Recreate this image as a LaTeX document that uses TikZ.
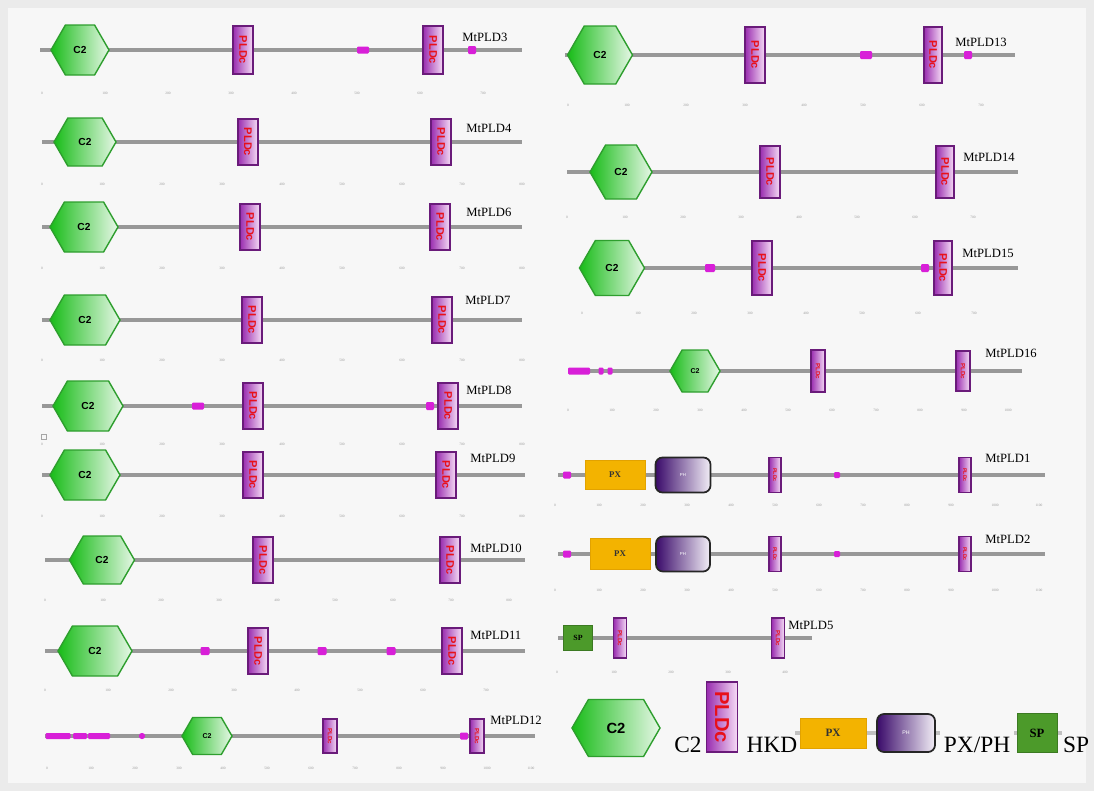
\documentclass[tikz,border=0pt]{standalone}
\usepackage{fontspec}
\usepackage{graphicx}
\setmainfont{Liberation Serif}
\newfontfamily\dsans{Liberation Sans}
\usetikzlibrary{shapes.symbols}

\definecolor{bgouter}{HTML}{EBEBEB}
\definecolor{bginner}{HTML}{F7F7F7}
\definecolor{bbgray}{HTML}{989898}
\definecolor{c2dark}{HTML}{18BC18}
\definecolor{c2light}{HTML}{E6F7E6}
\definecolor{c2edge}{HTML}{2E9E2E}
\definecolor{pldcdark}{HTML}{9A2DB0}
\definecolor{pldclight}{HTML}{F6DDF6}
\definecolor{pldcedge}{HTML}{6A1B7A}
\definecolor{pldcred}{HTML}{E8101A}
\definecolor{pxorange}{HTML}{F3B300}
\definecolor{pxedge}{HTML}{E2A200}
\definecolor{phdark}{HTML}{3A0A6A}
\definecolor{phlight}{HTML}{F2EEF6}
\definecolor{spgreen}{HTML}{4C9A2A}
\definecolor{spedge}{HTML}{3C7A22}
\definecolor{motifpink}{HTML}{D81FD8}

\newcommand{\pldtxt}{\rotatebox{-90}{PLDc}}

\tikzset{
  backbone/.style={draw=bbgray, line width=1.8pt},
  c2dom/.style 2 args={signal, signal to=west and east, signal pointer angle=120,
    draw=c2edge, line width=0.8pt, left color=c2dark, right color=c2light,
    inner sep=0pt, minimum width=#1*0.02cm, minimum height=#2*0.02cm,
    font=\dsans\bfseries\fontsize{5.8}{5.8}\selectfont},
  pldc/.style 2 args={rectangle, draw=pldcedge, line width=0.9pt,
    left color=pldcdark, right color=pldclight, text=pldcred, inner sep=0pt,
    minimum width=#1*0.02cm, minimum height=#2*0.02cm,
    font=\dsans\bfseries\fontsize{6.3}{6.3}\selectfont},
  pxdom/.style 2 args={rectangle, fill=pxorange, draw=pxedge, line width=0.5pt,
    inner sep=0pt, minimum width=#1*0.02cm, minimum height=#2*0.02cm,
    text=black!80, font=\bfseries\fontsize{5}{5}\selectfont},
  phdom/.style 2 args={rectangle, rounded corners=4pt, draw=black!85, line width=1pt,
    left color=phdark, right color=phlight, inner sep=0pt,
    minimum width=#1*0.02cm, minimum height=#2*0.02cm,
    text=white, font=\dsans\fontsize{2.5}{2.5}\selectfont},
  spdom/.style 2 args={rectangle, fill=spgreen, draw=spedge, line width=0.5pt,
    inner sep=0pt, minimum width=#1*0.02cm, minimum height=#2*0.02cm,
    font=\bfseries\fontsize{4.5}{4.5}\selectfont},
  motif/.style 2 args={rectangle, fill=motifpink, rounded corners=0.6pt, inner sep=0pt,
    minimum width=#1*0.02cm, minimum height=#2*0.02cm},
  tick/.style={text=gray!80, inner sep=0pt, font=\fontsize{2}{2}\selectfont},
  pname/.style={anchor=west, inner sep=0pt, font=\fontsize{7.2}{8}\selectfont},
  legtext/.style={inner sep=0pt, font=\fontsize{13.3}{14}\selectfont}
}

\begin{document}
\begin{tikzpicture}[x=0.02cm, y=-0.02cm]
  % background
  \fill[bgouter] (0,0) rectangle (1094,791);
  \fill[bginner] (8,8) rectangle (1086,783);

  %%%%%%%%%%%%%%%% left column %%%%%%%%%%%%%%%%

  % MtPLD3
  \coordinate (a3) at (40,50);
  \coordinate (b3) at (522,50);
  \draw[backbone] (a3) -- (b3);
  \node[c2dom={58}{50}] (c3) at (80,50) {C2};
  \node[pldc={20}{48}] (h3a) at (243,50) {\pldtxt};
  \node[pldc={20}{48}] (h3b) at (433,50) {\pldtxt};
  \node[motif={12}{7}] (m3a) at (363,50) {};
  \node[motif={8}{8}] (m3b) at (472,50) {};
  \node[pname] (n3) at (462,37) {MtPLD3};
  \foreach \k [evaluate=\k as \v using int(100*\k)] in {0,...,7}
    \node[tick] (t3-\k) at ({42+63*\k},93) {\v};

  % MtPLD4
  \coordinate (a4) at (42,142);
  \coordinate (b4) at (522,142);
  \draw[backbone] (a4) -- (b4);
  \node[c2dom={62}{48}] (c4) at (85,142) {C2};
  \node[pldc={20}{46}] (h4a) at (248,142) {\pldtxt};
  \node[pldc={20}{46}] (h4b) at (441,142) {\pldtxt};
  \node[pname] (n4) at (466,128) {MtPLD4};
  \foreach \k [evaluate=\k as \v using int(100*\k)] in {0,...,8}
    \node[tick] (t4-\k) at ({42+60*\k},184) {\v};

  % MtPLD6
  \coordinate (a6) at (42,227);
  \coordinate (b6) at (522,227);
  \draw[backbone] (a6) -- (b6);
  \node[c2dom={68}{50}] (c6) at (84,227) {C2};
  \node[pldc={20}{46}] (h6a) at (250,227) {\pldtxt};
  \node[pldc={20}{46}] (h6b) at (440,227) {\pldtxt};
  \node[pname] (n6) at (466,212) {MtPLD6};
  \foreach \k [evaluate=\k as \v using int(100*\k)] in {0,...,8}
    \node[tick] (t6-\k) at ({42+60*\k},268) {\v};

  % MtPLD7
  \coordinate (a7) at (42,320);
  \coordinate (b7) at (522,320);
  \draw[backbone] (a7) -- (b7);
  \node[c2dom={70}{50}] (c7) at (85,320) {C2};
  \node[pldc={20}{46}] (h7a) at (252,320) {\pldtxt};
  \node[pldc={20}{46}] (h7b) at (442,320) {\pldtxt};
  \node[pname] (n7) at (465,300) {MtPLD7};
  \foreach \k [evaluate=\k as \v using int(100*\k)] in {0,...,8}
    \node[tick] (t7-\k) at ({42+60*\k},360) {\v};

  % MtPLD8
  \coordinate (a8) at (42,406);
  \coordinate (b8) at (522,406);
  \draw[backbone] (a8) -- (b8);
  \node[c2dom={70}{50}] (c8) at (88,406) {C2};
  \node[pldc={20}{46}] (h8a) at (253,406) {\pldtxt};
  \node[pldc={20}{46}] (h8b) at (448,406) {\pldtxt};
  \node[motif={12}{7}] (m8a) at (198,406) {};
  \node[motif={8}{8}] (m8b) at (430,406) {};
  \node[pname] (n8) at (466,390) {MtPLD8};
  \foreach \k [evaluate=\k as \v using int(100*\k)] in {0,...,8}
    \node[tick] (t8-\k) at ({42+60*\k},444) {\v};
  \node[draw=gray!70, line width=0.3pt, minimum size=0.1cm, inner sep=0pt] (sq8) at (44,437) {};

  % MtPLD9
  \coordinate (a9) at (42,475);
  \coordinate (b9) at (525,475);
  \draw[backbone] (a9) -- (b9);
  \node[c2dom={70}{50}] (c9) at (85,475) {C2};
  \node[pldc={20}{46}] (h9a) at (253,475) {\pldtxt};
  \node[pldc={20}{46}] (h9b) at (446,475) {\pldtxt};
  \node[pname] (n9) at (470,458) {MtPLD9};
  \foreach \k [evaluate=\k as \v using int(100*\k)] in {0,...,8}
    \node[tick] (t9-\k) at ({42+60*\k},516) {\v};

  % MtPLD10
  \coordinate (a10) at (45,560);
  \coordinate (b10) at (525,560);
  \draw[backbone] (a10) -- (b10);
  \node[c2dom={65}{48}] (c10) at (102,560) {C2};
  \node[pldc={20}{46}] (h10a) at (263,560) {\pldtxt};
  \node[pldc={20}{46}] (h10b) at (450,560) {\pldtxt};
  \node[pname] (n10) at (470,548) {MtPLD10};
  \foreach \k [evaluate=\k as \v using int(100*\k)] in {0,...,8}
    \node[tick] (t10-\k) at ({45+58*\k},600) {\v};

  % MtPLD11
  \coordinate (a11) at (45,651);
  \coordinate (b11) at (525,651);
  \draw[backbone] (a11) -- (b11);
  \node[c2dom={74}{50}] (c11) at (95,651) {C2};
  \node[pldc={20}{46}] (h11a) at (258,651) {\pldtxt};
  \node[pldc={20}{46}] (h11b) at (452,651) {\pldtxt};
  \foreach \x [count=\i] in {205,322,391}
    \node[motif={9}{8}] (m11-\i) at (\x,651) {};
  \node[pname] (n11) at (470,635) {MtPLD11};
  \foreach \k [evaluate=\k as \v using int(100*\k)] in {0,...,7}
    \node[tick] (t11-\k) at ({45+63*\k},690) {\v};

  % MtPLD12
  \coordinate (a12) at (45,736);
  \coordinate (b12) at (535,736);
  \draw[backbone] (a12) -- (b12);
  \node[motif={25}{6}] (m12a) at (58,736) {};
  \node[motif={14}{6}] (m12b) at (80,736) {};
  \node[motif={22}{6}] (m12c) at (99,736) {};
  \node[motif={6}{6}, rounded corners=1.5pt] (m12d) at (142,736) {};
  \node[motif={8}{7}] (m12e) at (464,736) {};
  \node[c2dom={50}{37}, font=\dsans\bfseries\fontsize{4}{4}\selectfont] (c12) at (207,736) {C2};
  \node[pldc={14}{34}, font=\dsans\bfseries\fontsize{3.5}{3.5}\selectfont] (h12a) at (330,736) {\pldtxt};
  \node[pldc={14}{34}, font=\dsans\bfseries\fontsize{3.5}{3.5}\selectfont] (h12b) at (477,736) {\pldtxt};
  \node[pname] (n12) at (490,720) {MtPLD12};
  \foreach \k [evaluate=\k as \v using int(100*\k)] in {0,...,11}
    \node[tick] (t12-\k) at ({47+44*\k},768) {\v};

  %%%%%%%%%%%%%%%% right column %%%%%%%%%%%%%%%%

  % MtPLD13
  \coordinate (a13) at (565,55);
  \coordinate (b13) at (1015,55);
  \draw[backbone] (a13) -- (b13);
  \node[c2dom={65}{58}] (c13) at (600,55) {C2};
  \node[pldc={20}{56}] (h13a) at (755,55) {\pldtxt};
  \node[pldc={18}{56}] (h13b) at (933,55) {\pldtxt};
  \node[motif={12}{8}] (m13a) at (866,55) {};
  \node[motif={8}{8}] (m13b) at (968,55) {};
  \node[pname] (n13) at (955,42) {MtPLD13};
  \foreach \k [evaluate=\k as \v using int(100*\k)] in {0,...,7}
    \node[tick] (t13-\k) at ({568+59*\k},105) {\v};

  % MtPLD14
  \coordinate (a14) at (567,172);
  \coordinate (b14) at (1018,172);
  \draw[backbone] (a14) -- (b14);
  \node[c2dom={62}{54}] (c14) at (621,172) {C2};
  \node[pldc={20}{52}] (h14a) at (770,172) {\pldtxt};
  \node[pldc={18}{52}] (h14b) at (945,172) {\pldtxt};
  \node[pname] (n14) at (963,157) {MtPLD14};
  \foreach \k [evaluate=\k as \v using int(100*\k)] in {0,...,7}
    \node[tick] (t14-\k) at ({567+58*\k},217) {\v};

  % MtPLD15
  \coordinate (a15) at (580,268);
  \coordinate (b15) at (1018,268);
  \draw[backbone] (a15) -- (b15);
  \node[c2dom={65}{55}] (c15) at (612,268) {C2};
  \node[motif={10}{8}] (m15a) at (710,268) {};
  \node[motif={8}{8}] (m15b) at (925,268) {};
  \node[pldc={20}{54}] (h15a) at (762,268) {\pldtxt};
  \node[pldc={18}{54}] (h15b) at (943,268) {\pldtxt};
  \node[pname] (n15) at (962,253) {MtPLD15};
  \foreach \k [evaluate=\k as \v using int(100*\k)] in {0,...,7}
    \node[tick] (t15-\k) at ({582+56*\k},313) {\v};

  % MtPLD16
  \coordinate (a16) at (568,371);
  \coordinate (b16) at (1022,371);
  \draw[backbone] (a16) -- (b16);
  \node[motif={22}{7}] (m16a) at (579,371) {};
  \node[motif={5}{7}] (m16b) at (601,371) {};
  \node[motif={5}{7}] (m16c) at (610,371) {};
  \node[c2dom={50}{42}, font=\dsans\bfseries\fontsize{4}{4}\selectfont] (c16) at (695,371) {C2};
  \node[pldc={14}{42}, font=\dsans\bfseries\fontsize{3.5}{3.5}\selectfont] (h16a) at (818,371) {\pldtxt};
  \node[pldc={14}{40}, font=\dsans\bfseries\fontsize{3.5}{3.5}\selectfont] (h16b) at (963,371) {\pldtxt};
  \node[pname] (n16) at (985,353) {MtPLD16};
  \foreach \k [evaluate=\k as \v using int(100*\k)] in {0,...,10}
    \node[tick] (t16-\k) at ({568+44*\k},410) {\v};

  % MtPLD1
  \coordinate (a1) at (558,475);
  \coordinate (b1) at (1045,475);
  \draw[backbone] (a1) -- (b1);
  \node[motif={8}{7}] (m1a) at (567,475) {};
  \node[motif={6}{6}] (m1b) at (837,475) {};
  \node[pxdom={60}{29}] (px1) at (615,475) {PX};
  \node[phdom={55}{35}] (ph1) at (683,475) {PH};
  \node[pldc={12}{35}, font=\dsans\bfseries\fontsize{3}{3}\selectfont] (h1a) at (775,475) {\pldtxt};
  \node[pldc={12}{35}, font=\dsans\bfseries\fontsize{3}{3}\selectfont] (h1b) at (965,475) {\pldtxt};
  \node[pname] (n1) at (985,458) {MtPLD1};
  \foreach \k [evaluate=\k as \v using int(100*\k)] in {0,...,11}
    \node[tick] (t1-\k) at ({555+44*\k},505) {\v};

  % MtPLD2
  \coordinate (a2) at (558,554);
  \coordinate (b2) at (1045,554);
  \draw[backbone] (a2) -- (b2);
  \node[motif={8}{7}] (m2a) at (567,554) {};
  \node[motif={6}{6}] (m2b) at (837,554) {};
  \node[pxdom={60}{31}] (px2) at (620,554) {PX};
  \node[phdom={54}{35}] (ph2) at (683,554) {PH};
  \node[pldc={12}{35}, font=\dsans\bfseries\fontsize{3}{3}\selectfont] (h2a) at (775,554) {\pldtxt};
  \node[pldc={12}{35}, font=\dsans\bfseries\fontsize{3}{3}\selectfont] (h2b) at (965,554) {\pldtxt};
  \node[pname] (n2) at (985,539) {MtPLD2};
  \foreach \k [evaluate=\k as \v using int(100*\k)] in {0,...,11}
    \node[tick] (t2-\k) at ({555+44*\k},590) {\v};

  % MtPLD5
  \coordinate (a5) at (558,638);
  \coordinate (b5) at (812,638);
  \draw[backbone] (a5) -- (b5);
  \node[spdom={29}{25}] (sp5) at (578,638) {SP};
  \node[pldc={13}{40}, font=\dsans\bfseries\fontsize{3.5}{3.5}\selectfont] (h5a) at (620,638) {\pldtxt};
  \node[pldc={13}{40}, font=\dsans\bfseries\fontsize{3.5}{3.5}\selectfont] (h5b) at (778,638) {\pldtxt};
  \node[pname] (n5) at (788,625) {MtPLD5};
  \foreach \k [evaluate=\k as \v using int(100*\k)] in {0,...,4}
    \node[tick] (t5-\k) at ({557+57*\k},672) {\v};

  %%%%%%%%%%%%%%%% legend %%%%%%%%%%%%%%%%
  \coordinate (lpa) at (795,733);
  \coordinate (lpb) at (940,733);
  \coordinate (lsa) at (1014,733);
  \coordinate (lsb) at (1062,733);
  \draw[backbone, draw=bbgray!60] (lpa) -- (lpb);
  \draw[backbone, draw=bbgray!60] (lsa) -- (lsb);
  \node[c2dom={88}{57}, font=\dsans\bfseries\fontsize{8.4}{8.4}\selectfont] (lc2) at (616,728) {C2};
  \node[legtext] (tc2) at (688,745) {C2};
  \node[pldc={31}{70}, font=\dsans\bfseries\fontsize{11.5}{11.5}\selectfont] (lhk) at (722,717) {\pldtxt};
  \node[legtext] (thk) at (772,745) {HKD};
  \node[pxdom={66}{30}, font=\bfseries\fontsize{6.4}{6.4}\selectfont] (lpx) at (833,733) {PX};
  \node[phdom={58}{38}, font=\dsans\fontsize{3}{3}\selectfont] (lph) at (906,733) {PH};
  \node[legtext] (tpx) at (977,745) {PX/PH};
  \node[spdom={40}{39}, font=\bfseries\fontsize{7.2}{7.2}\selectfont] (lsp) at (1037,733) {SP};
  \node[legtext] (tsp) at (1076,745) {SP};
\end{tikzpicture}
\end{document}
